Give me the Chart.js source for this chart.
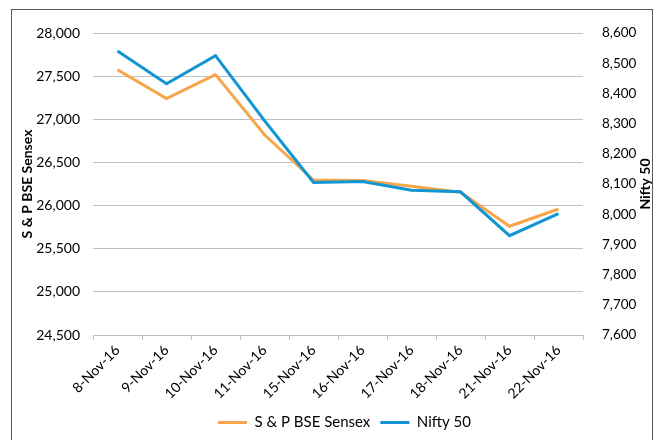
<!DOCTYPE html>
<html>
<head>
<meta charset="utf-8">
<script src="https://cdn.jsdelivr.net/npm/chart.js@4/dist/chart.umd.min.js"></script>
<style>
  html, body { margin: 0; padding: 0; background: #fff; }
  #wrap { position: relative; width: 655px; height: 440px; }
  #frame { position: absolute; left: 11px; top: 9px; width: 642px; height: 440px; border: 1px solid #595959; box-sizing: border-box; pointer-events: none; }
</style>
</head>
<body>
<div id="wrap">
  <canvas id="myChart" width="655" height="440"></canvas>
  <div id="frame"></div>
</div>
<script>
const dates = ['8-Nov-16', '9-Nov-16', '10-Nov-16', '11-Nov-16', '15-Nov-16',
               '16-Nov-16', '17-Nov-16', '18-Nov-16', '21-Nov-16', '22-Nov-16'];
const sensex = [27575, 27240, 27518, 26820, 26295, 26290, 26225, 26155, 25760, 25960];
const nifty = [8540, 8432, 8525, 8310, 8105, 8108, 8079, 8074, 7929, 8002];
const sensexTicks = { min: 24500, max: 28000, step: 500 };
const niftyTicks = { min: 7600, max: 8600, step: 100 };

const font = { family: 'Lato', size: 14 };
const gridGray = '#C0C0C0';

// both axis titles read bottom-to-top
const axisTitles = {
    id: 'axisTitles',
    afterDraw(chart) {
        const ctx = chart.ctx;
        const area = chart.chartArea;
        const mid = (area.top + area.bottom) / 2;
        ctx.save();
        ctx.font = 'bold 14px Lato';
        ctx.fillStyle = '#000';
        ctx.textAlign = 'center';
        ctx.textBaseline = 'middle';
        [[27, 'S & P BSE Sensex'], [645, 'Nifty 50']].forEach(t => {
            ctx.save();
            ctx.translate(t[0], mid);
            ctx.rotate(-Math.PI / 2);
            ctx.fillText(t[1], 0, 0);
            ctx.restore();
        });
        ctx.restore();
    }
};

const data = {
    labels: dates,
    datasets: [{
        label: 'Nifty 50',
        data: nifty,
        yAxisID: 'y1',
        borderColor: '#1195D3',
        backgroundColor: '#1195D3',
        borderWidth: 3,
        pointRadius: 0,
        tension: 0
    }, {
        label: 'S & P BSE Sensex',
        data: sensex,
        yAxisID: 'y',
        borderColor: '#F7A64B',
        backgroundColor: '#F7A64B',
        borderWidth: 3,
        pointRadius: 0,
        tension: 0
    }]
};

const config = {
    type: 'line',
    data,
    plugins: [axisTitles],
    options: {
        responsive: false,
        animation: false,
        layout: { padding: { left: 34, right: 0, top: 33, bottom: 0 } },
        plugins: {
            tooltip: { enabled: false },
            legend: {
                position: 'bottom',
                reverse: true,
                labels: {
                    color: '#000',
                    font: { family: 'Lato', size: 15 },
                    usePointStyle: true,
                    pointStyle: 'line',
                    pointStyleWidth: 29,
                    padding: 10
                }
            }
        },
        scales: {
            x: {
                offset: true,
                grid: { offset: true, drawOnChartArea: false, drawTicks: true, tickLength: 5, color: gridGray },
                border: { display: true, color: gridGray },
                ticks: { color: '#000', font, minRotation: 45, maxRotation: 45, padding: 2 },
                afterFit(scale) { scale.height = 70; }
            },
            y: {
                position: 'left',
                min: sensexTicks.min,
                max: sensexTicks.max,
                grid: { color: gridGray, drawTicks: false },
                border: { display: false },
                ticks: {
                    stepSize: sensexTicks.step,
                    color: '#000',
                    font,
                    padding: 13,
                    callback: v => v.toLocaleString('en-US')
                },
                afterFit(scale) { scale.width = 59; }
            },
            y1: {
                position: 'right',
                min: niftyTicks.min,
                max: niftyTicks.max,
                grid: { display: false, drawTicks: false },
                border: { display: false },
                ticks: {
                    stepSize: niftyTicks.step,
                    color: '#000',
                    font: { family: 'Lato', size: 13.5 },
                    padding: 19,
                    callback: v => v.toLocaleString('en-US')
                },
                afterFit(scale) { scale.width = 72; }
            }
        }
    }
};

new Chart(document.getElementById('myChart'), config);
</script>
</body>
</html>
